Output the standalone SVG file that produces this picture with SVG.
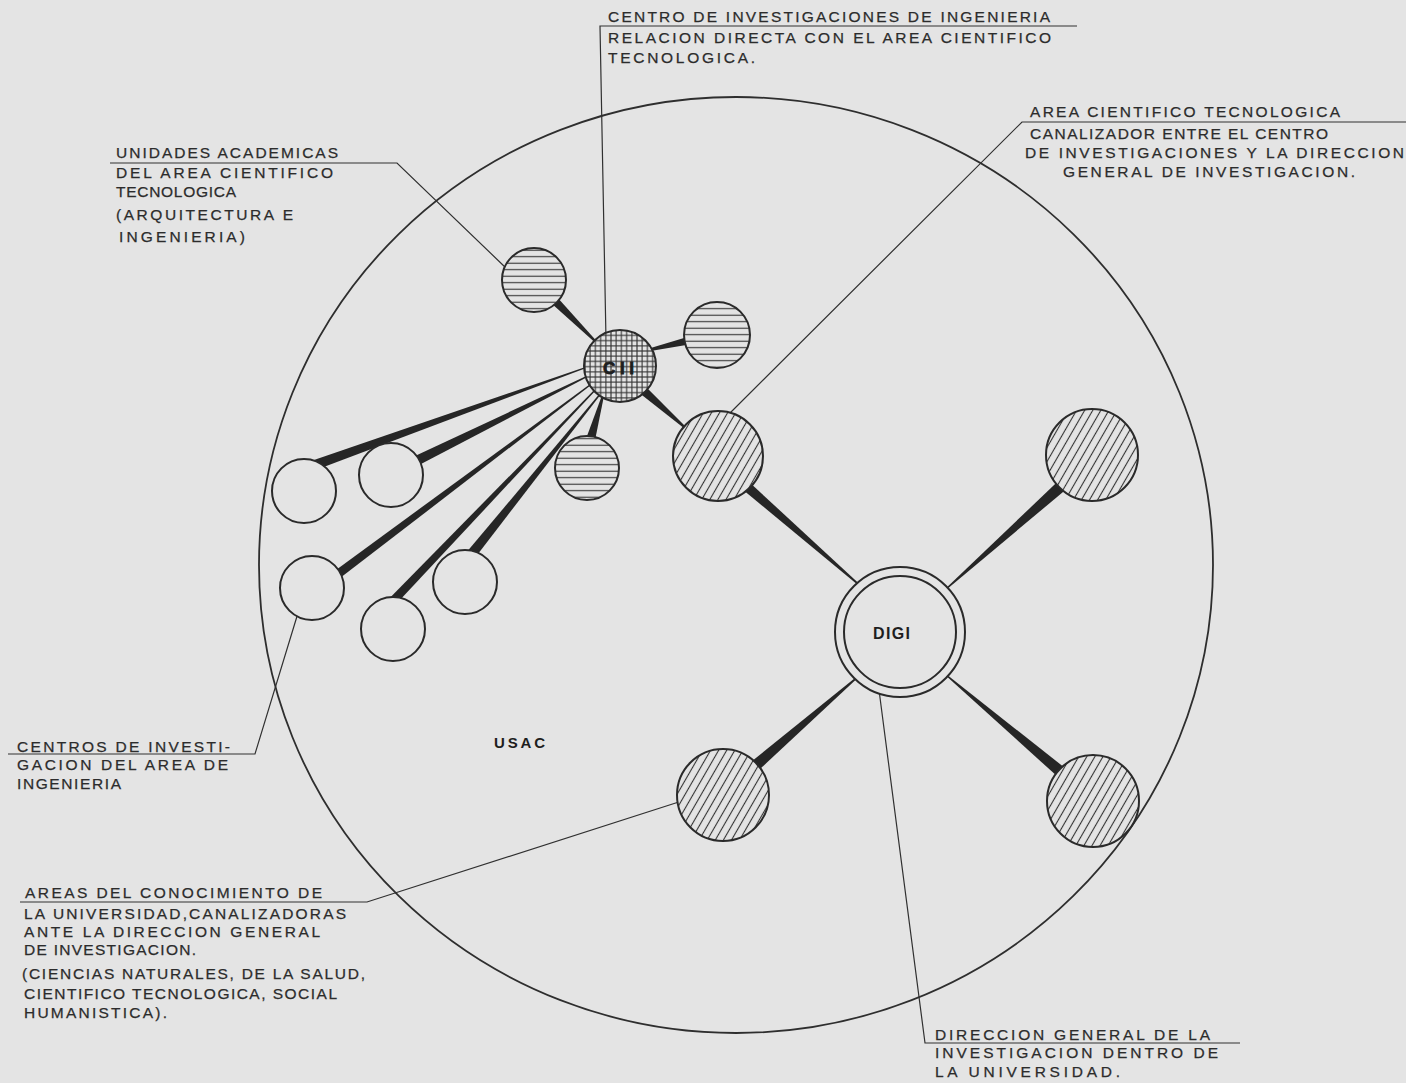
<svg xmlns="http://www.w3.org/2000/svg" width="1406" height="1083" viewBox="0 0 1406 1083">
<style>
  .bg{fill:#e4e4e4}
  .ring{fill:none;stroke:#2e2e2e;stroke-width:1.8}
  .node{stroke:#2a2a2a;stroke-width:2}
  .plain{fill:#e4e4e4}
  .wedge{fill:#262626;stroke:none}
  .lead{fill:none;stroke:#303030;stroke-width:1.2}
  .t{font-family:"Liberation Sans",Arial,sans-serif;font-size:15.5px;fill:#2c2c2c;stroke:#2c2c2c;stroke-width:0.25}
  .b{font-family:"Liberation Sans",Arial,sans-serif;font-weight:bold;fill:#1e1e1e}
</style>
<defs>
  <pattern id="hl" patternUnits="userSpaceOnUse" width="10" height="6.5">
    <rect width="10" height="6.5" fill="#e4e4e4"/>
    <line x1="0" y1="3.2" x2="10" y2="3.2" stroke="#333" stroke-width="1.1"/>
  </pattern>
  <pattern id="grid" patternUnits="userSpaceOnUse" width="5.2" height="5.2">
    <rect width="5.2" height="5.2" fill="#e4e4e4"/>
    <line x1="0" y1="2.6" x2="5.2" y2="2.6" stroke="#333" stroke-width="1.1"/>
    <line x1="2.6" y1="0" x2="2.6" y2="5.2" stroke="#333" stroke-width="1.1"/>
  </pattern>
  <pattern id="diag" patternUnits="userSpaceOnUse" width="7" height="7" patternTransform="rotate(30)">
    <rect width="7" height="7" fill="#e4e4e4"/>
    <line x1="3.5" y1="0" x2="3.5" y2="7" stroke="#333" stroke-width="1.1"/>
  </pattern>
</defs>

<rect class="bg" x="0" y="0" width="1406" height="1083"/>

<g id="usac">
  <ellipse class="ring" cx="736" cy="565" rx="477" ry="468"/>
  <text class="b" x="494" y="748" font-size="15" textLength="51" lengthAdjust="spacing">USAC</text>
</g>

<g id="connectors">
  <polygon class="wedge" points="589.80,365.44 310.31,461.29 313.69,470.71 590.20,366.56"/>
  <polygon class="wedge" points="591.73,373.46 411.78,457.52 416.22,466.48 592.27,374.54"/>
  <polygon class="wedge" points="593.64,381.52 335.3,570.4 340.7,577.6 594.36,382.48"/>
  <polygon class="wedge" points="596.57,387.58 388.75,598.89 395.25,605.11 597.43,388.42"/>
  <polygon class="wedge" points="600.53,392.62 466.10,552.87 473.90,559.13 601.47,393.38"/>
  <polygon class="wedge" points="546.82,299.18 599.47,346.53 600.53,345.47 553.18,292.82"/>
  <polygon class="wedge" points="698.98,333.62 639.83,351.27 640.17,352.73 701.02,342.38"/>
  <polygon class="wedge" points="593.81,446.36 604.72,392.20 603.28,391.80 584.19,443.64"/>
  <polygon class="wedge" points="632.68,387.74 689.50,432.56 690.50,431.44 639.32,380.26"/>
  <polygon class="wedge" points="741.71,488.76 864.61,590.45 865.39,589.55 748.29,481.24"/>
  <polygon class="wedge" points="1064.0,475.53 944.60,589.55 945.40,590.45 1072.0,484.47"/>
  <polygon class="wedge" points="751.93,776.53 861.39,674.45 860.61,673.55 744.07,767.47"/>
  <polygon class="wedge" points="1071.87,773.42 945.39,673.54 944.61,674.46 1064.13,782.58"/>

  <polyline class="lead" points="1077,26 600,26 606,340"/>
  <polyline class="lead" points="1406,122 1022,122 725,418"/>
  <polyline class="lead" points="110,163 397,163 506,268"/>
  <polyline class="lead" points="8,754 255,754 298,613"/>
  <polyline class="lead" points="20,902 367,902 685,800"/>
  <polyline class="lead" points="1240,1043 925,1043 879,690"/>
</g>

<g id="cii">
  <circle class="node" cx="620" cy="366" r="36" fill="url(#grid)"/>
  <text class="b" x="603" y="374" font-size="17" textLength="31" lengthAdjust="spacing" stroke="#1e1e1e" stroke-width="0.8">CII</text>
</g>
<g id="unidad-1"><circle class="node" cx="534" cy="280" r="32" fill="url(#hl)"/></g>
<g id="unidad-2"><circle class="node" cx="717" cy="335" r="33" fill="url(#hl)"/></g>
<g id="unidad-3"><circle class="node" cx="587" cy="468" r="32" fill="url(#hl)"/></g>

<g id="centro-a"><circle class="node plain" cx="304" cy="491" r="32"/></g>
<g id="centro-b"><circle class="node plain" cx="391" cy="475" r="32"/></g>
<g id="centro-c"><circle class="node plain" cx="312" cy="588" r="32"/></g>
<g id="centro-d"><circle class="node plain" cx="393" cy="629" r="32"/></g>
<g id="centro-e"><circle class="node plain" cx="465" cy="582" r="32"/></g>

<g id="area-ct"><circle class="node" cx="718" cy="456" r="45" fill="url(#diag)"/></g>
<g id="area-ur"><circle class="node" cx="1092" cy="455" r="46" fill="url(#diag)"/></g>
<g id="area-ll"><circle class="node" cx="723" cy="795" r="46" fill="url(#diag)"/></g>
<g id="area-lr"><circle class="node" cx="1093" cy="801" r="46" fill="url(#diag)"/></g>

<g id="digi">
  <circle class="node plain" cx="900" cy="632" r="65"/>
  <circle class="node" cx="900" cy="632" r="56" fill="none"/>
  <text class="b" x="873" y="639" font-size="16" textLength="37" lengthAdjust="spacing">DIGI</text>
</g>

<g id="label-cii">
  <text class="t" x="608" y="22" textLength="442" lengthAdjust="spacing">CENTRO DE INVESTIGACIONES DE INGENIERIA</text>
  <text class="t" x="608" y="43" textLength="443" lengthAdjust="spacing">RELACION DIRECTA CON EL AREA CIENTIFICO</text>
  <text class="t" x="608" y="63" textLength="147" lengthAdjust="spacing">TECNOLOGICA.</text>
</g>
<g id="label-area">
  <text class="t" x="1030" y="117" textLength="310" lengthAdjust="spacing">AREA CIENTIFICO TECNOLOGICA</text>
  <text class="t" x="1030" y="139" textLength="298" lengthAdjust="spacing">CANALIZADOR ENTRE EL CENTRO</text>
  <text class="t" x="1025" y="158" textLength="379" lengthAdjust="spacing">DE INVESTIGACIONES Y LA DIRECCION</text>
  <text class="t" x="1063" y="177" textLength="292" lengthAdjust="spacing">GENERAL DE INVESTIGACION.</text>
</g>
<g id="label-unidades">
  <text class="t" x="116" y="158" textLength="222" lengthAdjust="spacing">UNIDADES ACADEMICAS</text>
  <text class="t" x="116" y="178" textLength="217" lengthAdjust="spacing">DEL AREA CIENTIFICO</text>
  <text class="t" x="116" y="197" textLength="120" lengthAdjust="spacing">TECNOLOGICA</text>
  <text class="t" x="116" y="220" textLength="177" lengthAdjust="spacing">(ARQUITECTURA E</text>
  <text class="t" x="119" y="242" textLength="126" lengthAdjust="spacing">INGENIERIA)</text>
</g>
<g id="label-centros">
  <text class="t" x="17" y="752" textLength="213" lengthAdjust="spacing">CENTROS DE INVESTI-</text>
  <text class="t" x="17" y="770" textLength="211" lengthAdjust="spacing">GACION DEL AREA DE</text>
  <text class="t" x="17" y="789" textLength="104" lengthAdjust="spacing">INGENIERIA</text>
</g>
<g id="label-areas">
  <text class="t" x="25" y="898" textLength="297" lengthAdjust="spacing">AREAS DEL CONOCIMIENTO DE</text>
  <text class="t" x="24" y="919" textLength="322" lengthAdjust="spacing">LA UNIVERSIDAD,CANALIZADORAS</text>
  <text class="t" x="24" y="937" textLength="296" lengthAdjust="spacing">ANTE LA DIRECCION GENERAL</text>
  <text class="t" x="24" y="955" textLength="172" lengthAdjust="spacing">DE INVESTIGACION.</text>
  <text class="t" x="22" y="979" textLength="343" lengthAdjust="spacing">(CIENCIAS NATURALES, DE LA SALUD,</text>
  <text class="t" x="24" y="999" textLength="313" lengthAdjust="spacing">CIENTIFICO TECNOLOGICA, SOCIAL</text>
  <text class="t" x="24" y="1018" textLength="143" lengthAdjust="spacing">HUMANISTICA).</text>
</g>
<g id="label-digi">
  <text class="t" x="935" y="1040" textLength="275" lengthAdjust="spacing">DIRECCION GENERAL DE LA</text>
  <text class="t" x="935" y="1058" textLength="283" lengthAdjust="spacing">INVESTIGACION DENTRO DE</text>
  <text class="t" x="935" y="1077" textLength="185" lengthAdjust="spacing">LA UNIVERSIDAD.</text>
</g>
</svg>
